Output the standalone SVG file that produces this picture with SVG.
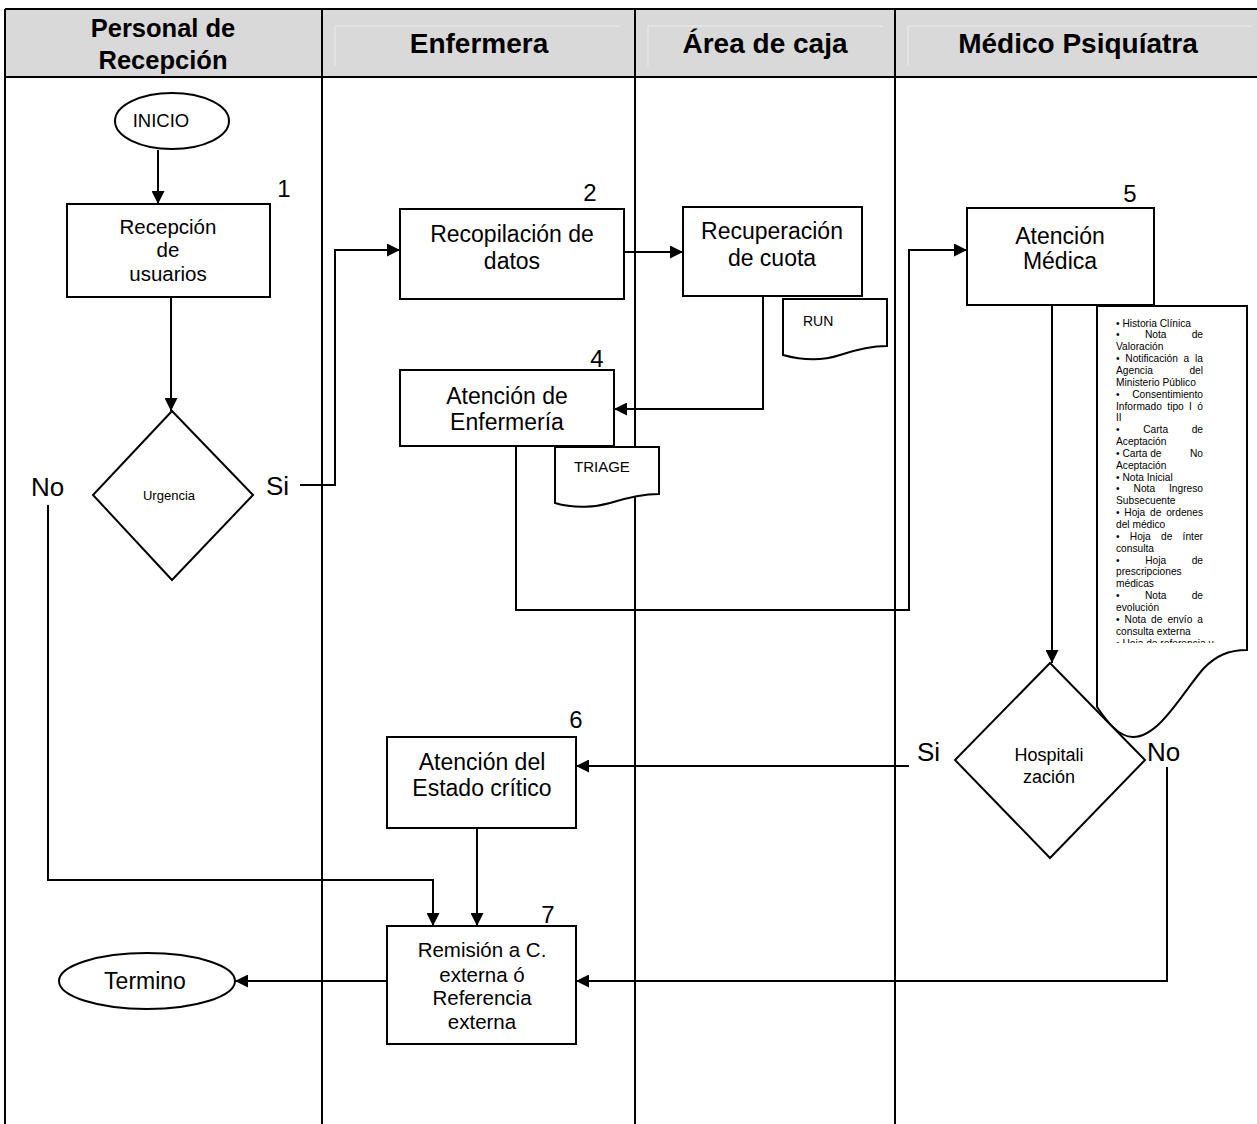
<svg xmlns="http://www.w3.org/2000/svg" width="1257" height="1124" viewBox="0 0 1257 1124">
  <style>
    .lane { stroke: #000; stroke-width: 2; fill: none; }
    .hdr { font-family: "Liberation Sans", Arial, sans-serif; font-weight: bold; font-size: 28px; text-anchor: middle; fill: #000; }
    .hdr2 { font-size: 25.5px; }
    .box { fill: #fff; stroke: #000; stroke-width: 2; }
    .lbl { font-family: "Liberation Sans", Arial, sans-serif; font-size: 23px; text-anchor: middle; fill: #000; }
    .lbl18 { font-family: "Liberation Sans", Arial, sans-serif; font-size: 20.5px; text-anchor: middle; fill: #000; }
    .num { font-family: "Liberation Sans", Arial, sans-serif; font-size: 24px; text-anchor: middle; fill: #000; }
    .yn { font-family: "Liberation Sans", Arial, sans-serif; font-size: 26px; fill: #000; }
    .doc { font-family: "Liberation Sans", Arial, sans-serif; font-size: 15px; fill: #000; }
    .list { font-family: "Liberation Sans", Arial, sans-serif; font-size: 10.2px; fill: #000; }
    .list .e { text-anchor: end; }
    .conn { fill: none; stroke: #000; stroke-width: 2; }
    .bevel { stroke: #ececec; stroke-width: 1; fill: none; }
  </style>
  <defs>
    <marker id="arrow" viewBox="0 0 10 10" refX="10" refY="5" markerUnits="userSpaceOnUse" markerWidth="15" markerHeight="13" orient="auto">
      <path d="M0,0 L10,5 L0,10 z" fill="#000"/>
    </marker>
    <clipPath id="listClip">
      <rect x="1098" y="307" width="148" height="336"/>
    </clipPath>
  </defs>

  <rect width="1257" height="1124" fill="#fff"/>

  <!-- swimlane table -->
  <g id="lanes">
    <rect x="5" y="9" width="1252" height="68" fill="#d9d9d9"/>
    <path class="bevel" d="M335,26 H620 M335,26 V66 M648,26 H882 M648,26 V66 M908,26 H1252 M908,26 V66"/>
    <path class="lane" d="M5,9 H1257 M5,77 H1257 M5,9 V1124 M322,9 V1124 M635,9 V1124 M895,9 V1124"/>
    <text class="hdr hdr2" x="163" y="37">Personal de</text>
    <text class="hdr hdr2" x="163" y="69">Recepción</text>
    <text class="hdr" x="479" y="53">Enfermera</text>
    <text class="hdr" x="765" y="53">Área de caja</text>
    <text class="hdr" x="1078" y="53">Médico Psiquíatra</text>
  </g>

  <!-- connectors -->
  <g id="connectors">
    <path class="conn" d="M158,150 V204" marker-end="url(#arrow)"/>
    <path class="conn" d="M171,297 V411" marker-end="url(#arrow)"/>
    <path class="conn" d="M300,485 H335 V250 H400" marker-end="url(#arrow)"/>
    <path class="conn" d="M624,252 H683" marker-end="url(#arrow)"/>
    <path class="conn" d="M763,296 V409 H614" marker-end="url(#arrow)"/>
    <path class="conn" d="M516,446 V610 H909 V250 H967" marker-end="url(#arrow)"/>
    <path class="conn" d="M1052,305 V663" marker-end="url(#arrow)"/>
    <path class="conn" d="M909,766 H576" marker-end="url(#arrow)"/>
    <path class="conn" d="M1167,767 V981 H576" marker-end="url(#arrow)"/>
    <path class="conn" d="M477,828 V926" marker-end="url(#arrow)"/>
    <path class="conn" d="M48,505 V880 H433 V926" marker-end="url(#arrow)"/>
    <path class="conn" d="M387,981 H235" marker-end="url(#arrow)"/>
  </g>

  <!-- start -->
  <g id="inicio">
    <ellipse class="box" cx="172" cy="121" rx="57" ry="28"/>
    <text class="lbl18" x="161" y="127" style="font-size:18.5px">INICIO</text>
  </g>

  <!-- 1 -->
  <g id="recepcion">
    <rect class="box" x="67" y="204" width="203" height="93"/>
    <text class="num" x="284" y="197">1</text>
    <text class="lbl18" x="168" y="234">Recepción</text>
    <text class="lbl18" x="168" y="257">de</text>
    <text class="lbl18" x="168" y="281">usuarios</text>
  </g>

  <!-- decision: urgencia -->
  <g id="urgencia">
    <path class="box" d="M172,411 L253,495 L172,580 L93,495 Z"/>
    <text class="lbl18" x="169" y="500" style="font-size:13px">Urgencia</text>
    <text class="yn" x="31" y="496">No</text>
    <text class="yn" x="266" y="495">Si</text>
  </g>

  <!-- 2 -->
  <g id="recopilacion">
    <rect class="box" x="400" y="209" width="224" height="90"/>
    <text class="num" x="590" y="201">2</text>
    <text class="lbl" x="512" y="242">Recopilación de</text>
    <text class="lbl" x="512" y="269">datos</text>
  </g>

  <!-- 3 -->
  <g id="recuperacion">
    <rect class="box" x="683" y="207" width="179" height="89"/>
    <text class="lbl" x="772" y="239">Recuperación</text>
    <text class="lbl" x="772" y="266">de cuota</text>
  </g>

  <!-- RUN document -->
  <g id="run">
    <path class="box" d="M783,299 H887 V346 C870,346 855,350 840,355 C825,360 805,361 783,355 Z"/>
    <text class="doc" x="803" y="326" style="font-size:14px">RUN</text>
  </g>

  <!-- 4 -->
  <g id="enfermeria">
    <rect class="box" x="400" y="370" width="214" height="76"/>
    <text class="num" x="597" y="367">4</text>
    <text class="lbl" x="507" y="404">Atención de</text>
    <text class="lbl" x="507" y="430">Enfermería</text>
  </g>

  <!-- TRIAGE document -->
  <g id="triage">
    <path class="box" d="M555,447 H659 V494 C641,494 626,498 610,503 C596,507 575,509 555,503 Z"/>
    <text class="doc" x="574" y="472">TRIAGE</text>
  </g>

  <!-- 5 -->
  <g id="atencion-medica">
    <rect class="box" x="967" y="208" width="187" height="97"/>
    <text class="num" x="1130" y="202">5</text>
    <text class="lbl" x="1060" y="244">Atención</text>
    <text class="lbl" x="1060" y="269">Médica</text>
  </g>

  <!-- clinical record document -->
  <g id="expediente">
    <path class="box" d="M1097,306 H1247 V650 C1228,650 1216,656 1204,668 C1184,690 1160,737 1133,737 C1118,737 1106,720 1097,707 Z"/>
    <g class="list" clip-path="url(#listClip)">
      <text x="1116" y="326.5">• Historia Clínica</text>
      <text x="1116" y="338.4">•</text><text x="1144.9" y="338.4">Nota</text><text class="e" x="1203" y="338.4">de</text>
      <text x="1116" y="350.2">Valoración</text>
      <text x="1116" y="362.1">•</text><text x="1125.3" y="362.1">Notificación</text><text x="1183.6" y="362.1">a</text><text class="e" x="1203" y="362.1">la</text>
      <text x="1116" y="373.9">Agencia</text><text class="e" x="1203" y="373.9">del</text>
      <text x="1116" y="385.8">Ministerio Público</text>
      <text x="1116" y="397.6">•</text><text class="e" x="1203" y="397.6">Consentimiento</text>
      <text x="1116" y="409.5">Informado</text><text x="1167.3" y="409.5">tipo</text><text x="1189.1" y="409.5">I</text><text class="e" x="1203" y="409.5">ó</text>
      <text x="1116" y="421.3">II</text>
      <text x="1116" y="433.2">•</text><text x="1143.2" y="433.2">Carta</text><text class="e" x="1203" y="433.2">de</text>
      <text x="1116" y="445.0">Aceptación</text>
      <text x="1116" y="456.9">• Carta de</text><text class="e" x="1203" y="456.9">No</text>
      <text x="1116" y="468.7">Aceptación</text>
      <text x="1116" y="480.6">• Nota Inicial</text>
      <text x="1116" y="492.4">•</text><text x="1133.6" y="492.4">Nota</text><text class="e" x="1203" y="492.4">Ingreso</text>
      <text x="1116" y="504.3">Subsecuente</text>
      <text x="1116" y="516.1">•</text><text x="1124.3" y="516.1">Hoja</text><text x="1150" y="516.1">de</text><text class="e" x="1203" y="516.1">ordenes</text>
      <text x="1116" y="528.0">del médico</text>
      <text x="1116" y="539.8">•</text><text x="1129.8" y="539.8">Hoja</text><text x="1161" y="539.8">de</text><text class="e" x="1203" y="539.8">ínter</text>
      <text x="1116" y="551.7">consulta</text>
      <text x="1116" y="563.5">•</text><text x="1145.2" y="563.5">Hoja</text><text class="e" x="1203" y="563.5">de</text>
      <text x="1116" y="575.4">prescripciones</text>
      <text x="1116" y="587.2">médicas</text>
      <text x="1116" y="599.1">•</text><text x="1144.9" y="599.1">Nota</text><text class="e" x="1203" y="599.1">de</text>
      <text x="1116" y="610.9">evolución</text>
      <text x="1116" y="622.8">•</text><text x="1124.6" y="622.8">Nota</text><text x="1151.1" y="622.8">de</text><text x="1167.4" y="622.8">envío</text><text class="e" x="1203" y="622.8">a</text>
      <text x="1116" y="634.6">consulta externa</text>
      <text x="1116" y="646.5">• Hoja de referencia y</text>
    </g>
  </g>

  <!-- decision: hospitalizacion -->
  <g id="hospitalizacion">
    <path class="box" d="M1050,663 L1145,760 L1050,858 L955,760 Z"/>
    <text class="lbl18" x="1049" y="761" style="font-size:18px">Hospitali</text>
    <text class="lbl18" x="1049" y="783" style="font-size:18px">zación</text>
    <text class="yn" x="917" y="761">Si</text>
    <text class="yn" x="1147" y="761">No</text>
  </g>

  <!-- 6 -->
  <g id="estado-critico">
    <rect class="box" x="387" y="737" width="189" height="91"/>
    <text class="num" x="576" y="728">6</text>
    <text class="lbl" x="482" y="770">Atención del</text>
    <text class="lbl" x="482" y="796">Estado crítico</text>
  </g>

  <!-- 7 -->
  <g id="remision">
    <rect class="box" x="387" y="926" width="189" height="118"/>
    <text class="num" x="548" y="923">7</text>
    <text class="lbl18" x="482" y="957">Remisión a C.</text>
    <text class="lbl18" x="482" y="982">externa ó</text>
    <text class="lbl18" x="482" y="1005">Referencia</text>
    <text class="lbl18" x="482" y="1029">externa</text>
  </g>

  <!-- end -->
  <g id="termino">
    <ellipse class="box" cx="147" cy="981" rx="88" ry="28"/>
    <text class="lbl" x="145" y="989">Termino</text>
  </g>
</svg>
